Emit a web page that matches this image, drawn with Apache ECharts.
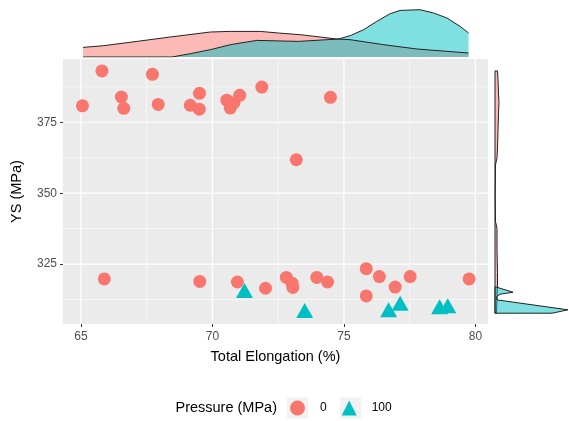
<!DOCTYPE html>
<html>
<head>
<meta charset="utf-8">
<script src="https://cdn.jsdelivr.net/npm/echarts@6/dist/echarts.min.js"></script>
<style>
  html, body { margin: 0; padding: 0; background: #fff; }
  #chart { width: 569px; height: 421px; }
</style>
</head>
<body>
<div id="chart"></div>
<script>
// scatter points: [total elongation %, YS MPa]
const pressure0 = [
  [65.06, 380.8], [65.80, 393.1], [66.54, 383.9], [66.63, 379.9], [67.72, 391.9],
  [67.94, 381.3], [69.16, 381.0], [69.51, 385.2], [69.50, 379.6], [70.55, 382.8],
  [70.68, 380.0], [70.82, 381.9], [71.04, 384.5], [71.88, 387.4], [74.49, 383.8],
  [73.19, 361.8], [65.89, 319.8], [69.52, 318.9], [70.95, 318.7], [72.02, 316.5],
  [72.81, 320.3], [73.03, 318.3], [73.06, 316.8], [73.97, 320.3], [74.38, 318.7],
  [75.85, 323.4], [76.35, 320.6], [75.85, 313.8], [76.95, 316.9], [77.52, 320.6],
  [79.76, 319.8],
];
const pressure100 = [
  [71.22, 315.7], [73.51, 308.7], [76.70, 308.9], [77.14, 311.2], [78.64, 310.0], [78.95, 310.3],
];

// axis ticks
const xLabels = [65, 70, 75, 80];
const xMinor = [67.5, 72.5, 77.5];
const yLabels = [325, 350, 375];
const yMinor = [312.5, 337.5, 362.5, 387.5];

// top marginal density (x, relative height)
const topX0 = [65.08, 65.86, 67.13, 68.40, 69.92, 70.68, 71.82, 72.51, 73.34, 74.10, 74.73, 75.24, 76.51, 77.78, 79.74];
const topD0 = [9.6, 11.3, 15.6, 20.0, 25.0, 25.6, 25.6, 24.0, 22.3, 20.0, 18.0, 17.3, 12.3, 8.0, 4.0];
const topX100 = [65.08, 68.46, 69.16, 69.92, 70.68, 71.69, 73.27, 74.80, 75.24, 75.75, 76.25, 76.76, 77.14, 77.90, 78.41, 78.92, 79.42, 79.74];
const topD100 = [0, 0, 3.3, 7.3, 12.3, 16.6, 15.6, 18.0, 21.3, 27.3, 35.6, 43.3, 46.6, 47.3, 44.0, 39.0, 30.6, 24.0];

// right marginal density (y, relative width)
const rightY0 = [393.1, 390, 385, 382, 378, 372, 366, 362.5, 360, 350, 340, 337.7, 330, 322, 318, 313, 307.7];
const rightD0 = [2.5, 3, 3.5, 4, 3.5, 3, 2.5, 2, 0.5, 0.2, 0.5, 2, 2, 2.5, 2.5, 2, 1.5];
const rightY100 = [317.0, 315.1, 314.4, 313.5, 312.4, 308.9, 307.7];
const rightD100 = [0.5, 18, 5, 1.5, 2, 73, 57];

const pink = "#F8766D";
const teal = "#00BFC4";
const font = "Liberation Sans";

const chart = echarts.init(document.getElementById("chart"), null, { renderer: "canvas" });

function gridLines(params, api) {
  const cs = params.coordSys;
  const kids = [];
  const add = (x1, y1, x2, y2, w) =>
    kids.push({ type: "line", shape: { x1, y1, x2, y2 }, style: { stroke: "#fff", lineWidth: w } });
  xMinor.forEach((v) => { const p = api.coord([v, yLabels[0]]); add(p[0], cs.y, p[0], cs.y + cs.height, 0.6); });
  yMinor.forEach((v) => { const p = api.coord([xLabels[0], v]); add(cs.x, p[1], cs.x + cs.width, p[1], 0.6); });
  xLabels.forEach((v) => { const p = api.coord([v, yLabels[0]]); add(p[0], cs.y, p[0], cs.y + cs.height, 1.2); });
  yLabels.forEach((v) => { const p = api.coord([xLabels[0], v]); add(cs.x, p[1], cs.x + cs.width, p[1], 1.2); });
  return { type: "group", children: kids };
}

function sideDensity(ys, ds, fill) {
  return (params, api) => {
    const pts = [api.coord([0, ys[0]])];
    ys.forEach((y, i) => pts.push(api.coord([ds[i], y])));
    pts.push(api.coord([0, ys[ys.length - 1]]));
    return {
      type: "polygon",
      shape: { points: pts },
      style: { fill, stroke: "#222", lineWidth: 1 },
    };
  };
}

chart.setOption({
  animation: false,
  textStyle: { fontFamily: font },
  grid: [
    { left: 63, top: 59, width: 425, height: 265, backgroundColor: "#EBEBEB", show: true, borderWidth: 0 },
    { left: 63, top: 5, width: 425, height: 52 },
    { left: 495, top: 59, width: 74, height: 265 },
  ],
  xAxis: [
    {
      gridIndex: 0,
      type: "value",
      min: 64.32,
      max: 80.48,
      name: "Total Elongation (%)",
      nameLocation: "middle",
      nameGap: 25,
      nameTextStyle: { color: "#000", fontSize: 14.5, fontFamily: font },
      axisLine: { show: false },
      axisTick: { show: true, length: 3, customValues: xLabels, lineStyle: { color: "#333", width: 1 } },
      axisLabel: { customValues: xLabels, color: "#4D4D4D", fontSize: 12, margin: 7, fontFamily: font },
      splitLine: { show: false },
    },
    { gridIndex: 1, type: "value", min: 64.32, max: 80.48, show: false },
    { gridIndex: 2, type: "value", min: 0, max: 74, show: false },
  ],
  yAxis: [
    {
      gridIndex: 0,
      type: "value",
      min: 303.9,
      max: 397.3,
      name: "YS (MPa)",
      nameLocation: "middle",
      nameGap: 39,
      nameTextStyle: { color: "#000", fontSize: 14.5, fontFamily: font },
      axisLine: { show: false },
      axisTick: { show: true, length: 3, customValues: yLabels, lineStyle: { color: "#333", width: 1 } },
      axisLabel: { customValues: yLabels, color: "#4D4D4D", fontSize: 12, margin: 6, fontFamily: font },
      splitLine: { show: false },
    },
    { gridIndex: 1, type: "value", min: 0, max: 52, show: false },
    { gridIndex: 2, type: "value", min: 303.9, max: 397.3, show: false },
  ],
  legend: {
    left: 290,
    top: 400.5,
    padding: 0,
    itemWidth: 15,
    itemHeight: 15,
    itemGap: 15,
    textStyle: { color: "#000", fontSize: 12, fontFamily: font, padding: [0, 0, 0, 10] },
    data: [
      { name: "0", icon: "circle", itemStyle: { color: pink } },
      { name: "100", icon: "triangle", itemStyle: { color: teal } },
    ],
  },
  graphic: [
    { type: "rect", z: 0, shape: { x: 287, y: 397.5, width: 21, height: 21 }, style: { fill: "#F2F2F2" } },
    { type: "rect", z: 0, shape: { x: 340, y: 397.5, width: 21, height: 21 }, style: { fill: "#F2F2F2" } },
    {
      type: "text",
      x: 277,
      y: 408,
      style: { text: "Pressure (MPa)", fill: "#000", font: `14.5px "${font}"`, align: "right", verticalAlign: "middle" },
    },
  ],
  series: [
    {
      type: "custom",
      xAxisIndex: 0,
      yAxisIndex: 0,
      z: 1,
      silent: true,
      data: [0],
      renderItem: gridLines,
    },
    {
      name: "0",
      type: "scatter",
      xAxisIndex: 0,
      yAxisIndex: 0,
      z: 3,
      symbol: "circle",
      symbolSize: 13,
      itemStyle: { color: pink, opacity: 1 },
      data: pressure0,
    },
    {
      name: "100",
      type: "scatter",
      xAxisIndex: 0,
      yAxisIndex: 0,
      z: 3,
      symbol: "triangle",
      symbolSize: [17, 15],
      itemStyle: { color: teal, opacity: 1 },
      data: pressure100,
    },
    {
      type: "line",
      xAxisIndex: 1,
      yAxisIndex: 1,
      symbol: "none",
      silent: true,
      lineStyle: { color: "#222", width: 1 },
      areaStyle: { color: "rgba(248,118,109,0.5)", opacity: 1 },
      data: topX0.map((x, i) => [x, topD0[i]]),
    },
    {
      type: "line",
      xAxisIndex: 1,
      yAxisIndex: 1,
      symbol: "none",
      silent: true,
      lineStyle: { color: "#222", width: 1 },
      areaStyle: { color: "rgba(0,191,196,0.5)", opacity: 1 },
      data: topX100.map((x, i) => [x, topD100[i]]),
    },
    {
      type: "custom",
      xAxisIndex: 2,
      yAxisIndex: 2,
      silent: true,
      data: [0],
      renderItem: sideDensity(rightY0, rightD0, "rgba(248,118,109,0.5)"),
    },
    {
      type: "custom",
      xAxisIndex: 2,
      yAxisIndex: 2,
      silent: true,
      data: [0],
      renderItem: sideDensity(rightY100, rightD100, "rgba(0,191,196,0.5)"),
    },
  ],
});
</script>
</body>
</html>
